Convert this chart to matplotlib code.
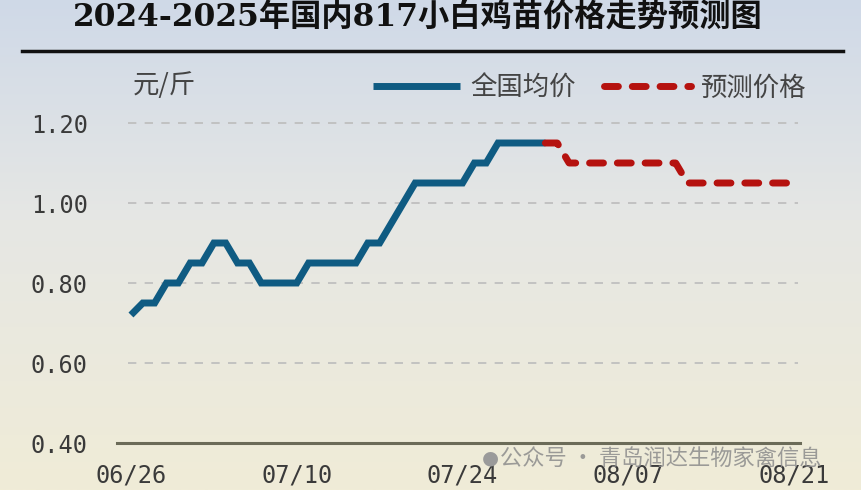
import numpy as np
import matplotlib
matplotlib.use("Agg")
import matplotlib.pyplot as plt
from matplotlib.lines import Line2D

plt.rcParams['font.family'] = ['Noto Sans CJK SC', 'DejaVu Sans']

# days counted from 06/26
actual_days = list(range(0, 36))
actual_price = [0.72, 0.75, 0.75, 0.80, 0.80, 0.85, 0.85, 0.90, 0.90, 0.85,
                0.85, 0.80, 0.80, 0.80, 0.80, 0.85, 0.85, 0.85, 0.85, 0.85,
                0.90, 0.90, 0.95, 1.00, 1.05, 1.05, 1.05, 1.05, 1.05, 1.10,
                1.10, 1.15, 1.15, 1.15, 1.15, 1.15]
forecast_days = list(range(35, 57))
forecast_price = [1.15, 1.15] + [1.10] * 10 + [1.05] * 10

tick_days = [0, 14, 28, 42, 56]
tick_labels = ['06/26', '07/10', '07/24', '08/07', '08/21']
y_ticks = [0.40, 0.60, 0.80, 1.00, 1.20]

W, H = 861, 490
fig = plt.figure(figsize=(W / 100, H / 100), dpi=100)

# background gradient (bluish top -> cream bottom)
bg = fig.add_axes([0, 0, 1, 1])
top = np.array([207, 217, 232]) / 255
mid = np.array([230, 231, 228]) / 255
bot = np.array([240, 236, 215]) / 255
t = np.linspace(0, 1, 256)[:, None]
grad = np.where(t < 0.45, top + (mid - top) * (t / 0.45), mid + (bot - mid) * ((t - 0.45) / 0.55))
bg.imshow(grad[:, None, :], aspect='auto', extent=[0, 1, 0, 1])
bg.axis('off')

ax = fig.add_axes([117 / W, 1 - 443 / H, (800 - 117) / W, (443 - 103) / H])
ax.patch.set_alpha(0)

ax.set_xlim(-1.18, 56.5)
ax.set_ylim(0.40, 1.25)

for y in y_ticks[1:]:
    ax.hlines(y, -0.25, 56.3, colors='#bcbcbc', linewidth=1.2, linestyles=(0, (5, 5)))

ax.plot(actual_days, actual_price, color='#0f5b82', linewidth=5,
        solid_joinstyle='miter', solid_capstyle='butt', label='全国均价', zorder=3)
ax.plot(forecast_days, forecast_price, color='#b5120f', linewidth=5,
        linestyle=(0, (2.0, 2.0)), dash_capstyle='round', label='预测价格', zorder=3)

for s in ['top', 'right', 'left']:
    ax.spines[s].set_visible(False)
ax.spines['bottom'].set_color('#6b6b58')
ax.spines['bottom'].set_linewidth(2.2)

ax.set_xticks(tick_days)
ax.set_xticklabels(tick_labels)
ax.set_yticks(y_ticks)
ax.set_yticklabels(['%.2f' % v for v in y_ticks])
ax.tick_params(axis='both', length=0, colors='#3a3a3a', labelsize=17)
ax.tick_params(axis='x', pad=15)
ax.tick_params(axis='y', pad=21)
for lab in ax.get_xticklabels() + ax.get_yticklabels():
    lab.set_family('DejaVu Sans Mono')

ax.legend(loc='center left', bbox_to_anchor=(373 / W, 1 - 88 / H),
          bbox_transform=fig.transFigure, ncol=2, frameon=False,
          fontsize=19, handlelength=3.3, handletextpad=0.37,
          columnspacing=1.1, borderpad=0, borderaxespad=0,
          labelcolor='#444444')

fig.text(164 / W, 1 - 85 / H, '元/斤', ha='center', va='center',
         fontsize=19, color='#444444')

fig.text(418 / W, 1 - 18 / H, '2024-2025年国内817小白鸡苗价格走势预测图',
         ha='center', va='center', fontsize=22.5, fontweight='bold',
         family=['DejaVu Serif', 'Noto Sans CJK SC'], color='#111111')
fig.add_artist(Line2D([22 / W, 843 / W], [1 - 51 / H, 1 - 51 / H],
                      color='#111111', linewidth=2.5))

# watermark (overlaps the x labels, as in the source image)
fig.text(490 / W, 1 - 458 / H, '●', ha='center', va='center',
         fontsize=14, color='#9a9a9a', family='DejaVu Sans')
fig.text(500 / W, 1 - 458 / H, '公众号 · 青岛润达生物家禽信息',
         ha='left', va='center', fontsize=16, color='#8c8c8c', alpha=0.85)

fig.savefig('out.png', dpi=100)
